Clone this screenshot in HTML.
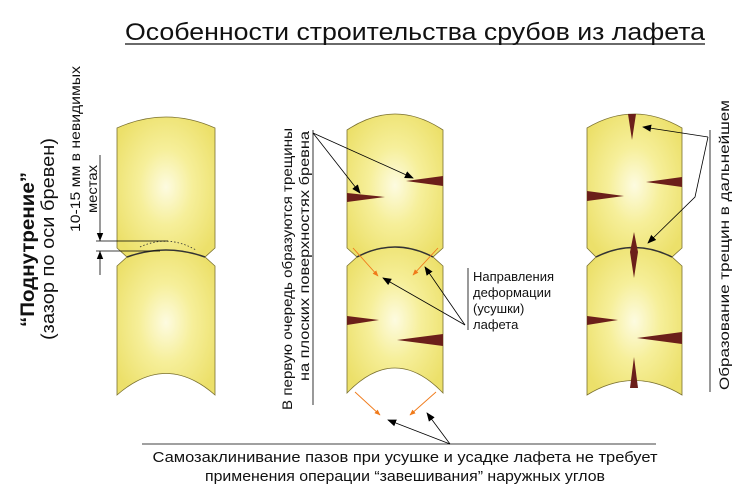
<!DOCTYPE html>
<html><head><meta charset="utf-8"><style>
html,body{margin:0;padding:0;background:#fff;}
svg{display:block}
text{font-family:"Liberation Sans",sans-serif;fill:#111}
</style></head><body>
<svg width="747" height="494" viewBox="0 0 747 494" xmlns="http://www.w3.org/2000/svg">
<defs>
<radialGradient id="g" cx="0.5" cy="0.5" r="0.6">
<stop offset="0" stop-color="#fdfbe0"/><stop offset="0.45" stop-color="#f6ef9a"/><stop offset="1" stop-color="#ece06a"/>
</radialGradient>
<marker id="a" viewBox="0 0 10 10" refX="9" refY="5" markerWidth="9" markerHeight="9" orient="auto" markerUnits="userSpaceOnUse"><path d="M0,1 L10,5 L0,9 z" fill="#000"/></marker>
<marker id="o" viewBox="0 0 10 10" refX="9" refY="5" markerWidth="6" markerHeight="6" orient="auto" markerUnits="userSpaceOnUse"><path d="M0,1 L10,5 L0,9 z" fill="#f07a1a"/></marker>
<marker id="d" viewBox="0 0 10 10" refX="10" refY="5" markerWidth="8" markerHeight="8" orient="auto" markerUnits="userSpaceOnUse"><path d="M0,1 L10,5 L0,9 z" fill="#000"/></marker>
</defs>

<text x="415" y="40" font-size="24" text-anchor="middle" textLength="580" lengthAdjust="spacingAndGlyphs">Особенности строительства срубов из лафета</text>
<line x1="125" y1="44" x2="705" y2="44" stroke="#111" stroke-width="1.3"/>

<g stroke="#7a7030" stroke-width="0.8" fill="url(#g)">
<path d="M117,128 Q166,106 215,128 L215,248 L205,257 Q166,243 127,257 L117,248 Z"/>
<path d="M117,266 L127,257 Q166,243 205,257 L215,266 L215,395 Q166,352 117,395 Z"/>
<path d="M347,130 Q395,98 443,130 L443,248 L433,257 Q395,237 357,257 L347,248 Z"/>
<path d="M347,266 L357,257 Q395,237 433,257 L443,266 L443,393 Q395,343 347,393 Z"/>
<path d="M587,128 Q634,100 682,128 L682,248 L672,257 Q634,238 596,257 L587,248 Z"/>
<path d="M587,266 L596,257 Q634,238 672,257 L682,266 L682,395 Q634,366 587,395 Z"/>
</g>
<path d="M140,247 Q168,234 196,250" fill="none" stroke="#333" stroke-width="0.8" stroke-dasharray="1.5,2"/>
<path d="M127,257 Q166,243 205,257" fill="none" stroke="#333" stroke-width="1.5"/>
<path d="M357,257 Q395,237 433,257" fill="none" stroke="#333" stroke-width="1.5"/>
<path d="M596,257 Q634,238 672,257" fill="none" stroke="#333" stroke-width="1.5"/>

<g fill="#6b1f1a">
<path d="M347,193 L385,197 L347,202 Z"/>
<path d="M443,176 L406,181 L443,186 Z"/>
<path d="M347,316 L379,320 L347,325 Z"/>
<path d="M443,334 L397,340 L443,346 Z"/>
<path d="M628,114 L632,140 L636,114 Z"/>
<path d="M682,177 L646,182 L682,187 Z"/>
<path d="M587,191 L624,196 L587,201 Z"/>
<path d="M634,232 L638,252 L634,278 L630,252 Z"/>
<path d="M587,316 L618,320 L587,325 Z"/>
<path d="M682,332 L637,338 L682,344 Z"/>
<path d="M630,388 L634,357 L638,388 Z"/>
</g>

<text transform="translate(34,327) rotate(-90)" font-size="19" font-weight="bold" textLength="155" lengthAdjust="spacingAndGlyphs">“Поднутрение”</text>
<text transform="translate(54,340) rotate(-90)" font-size="18" textLength="202" lengthAdjust="spacingAndGlyphs">(зазор по оси бревен)</text>
<text transform="translate(80,232) rotate(-90)" font-size="14" textLength="166" lengthAdjust="spacingAndGlyphs">10-15 мм в невидимых</text>
<text transform="translate(97,213) rotate(-90)" font-size="14" textLength="48" lengthAdjust="spacingAndGlyphs">местах</text>
<g stroke="#000" stroke-width="0.8">
<line x1="100" y1="155" x2="100" y2="241" marker-end="url(#d)"/>
<line x1="100" y1="275" x2="100" y2="251" marker-end="url(#d)"/>
<line x1="96" y1="241" x2="168" y2="241"/>
<line x1="96" y1="251" x2="160" y2="251"/>
</g>

<text transform="translate(292,410) rotate(-90)" font-size="14" textLength="282" lengthAdjust="spacingAndGlyphs">В первую очередь образуются трещины</text>
<text transform="translate(309,381) rotate(-90)" font-size="14" textLength="250" lengthAdjust="spacingAndGlyphs">на плоских поверхностях бревна</text>
<g stroke="#000" stroke-width="0.8" fill="none">
<line x1="313" y1="130" x2="313" y2="405"/>
<line x1="313" y1="133" x2="360" y2="193" marker-end="url(#a)"/>
<line x1="313" y1="133" x2="413" y2="178" marker-end="url(#a)"/>
<line x1="468" y1="268" x2="468" y2="330"/>
<line x1="465" y1="325" x2="383" y2="278" marker-end="url(#a)"/>
<line x1="465" y1="325" x2="425" y2="267" marker-end="url(#a)"/>
<line x1="142" y1="444" x2="656" y2="444"/>
<line x1="450" y1="444" x2="388" y2="420" marker-end="url(#a)"/>
<line x1="450" y1="444" x2="427" y2="413" marker-end="url(#a)"/>
<line x1="710" y1="130" x2="710" y2="392"/>
<line x1="708" y1="137" x2="643" y2="127" marker-end="url(#a)"/>
<polyline points="708,137 695,197 648,243" marker-end="url(#a)"/>
</g>
<g stroke="#f07a1a" stroke-width="0.9">
<line x1="353" y1="248" x2="378" y2="276" marker-end="url(#o)"/>
<line x1="438" y1="248" x2="413" y2="275" marker-end="url(#o)"/>
<line x1="355" y1="392" x2="380" y2="415" marker-end="url(#o)"/>
<line x1="436" y1="392" x2="410" y2="415" marker-end="url(#o)"/>
</g>
<text x="473" y="281" font-size="13">Направления</text>
<text x="473" y="297" font-size="13">деформации</text>
<text x="473" y="313" font-size="13">(усушки)</text>
<text x="473" y="329" font-size="13">лафета</text>

<text transform="translate(729,390) rotate(-90)" font-size="14" textLength="290" lengthAdjust="spacingAndGlyphs">Образование трещин в дальнейшем</text>

<text x="405" y="462" font-size="15" text-anchor="middle" textLength="505" lengthAdjust="spacingAndGlyphs">Самозаклинивание пазов при усушке и усадке лафета не требует</text>
<text x="405" y="481" font-size="15" text-anchor="middle" textLength="400" lengthAdjust="spacingAndGlyphs">применения операции  “завешивания” наружных углов</text>
</svg>
</body></html>
